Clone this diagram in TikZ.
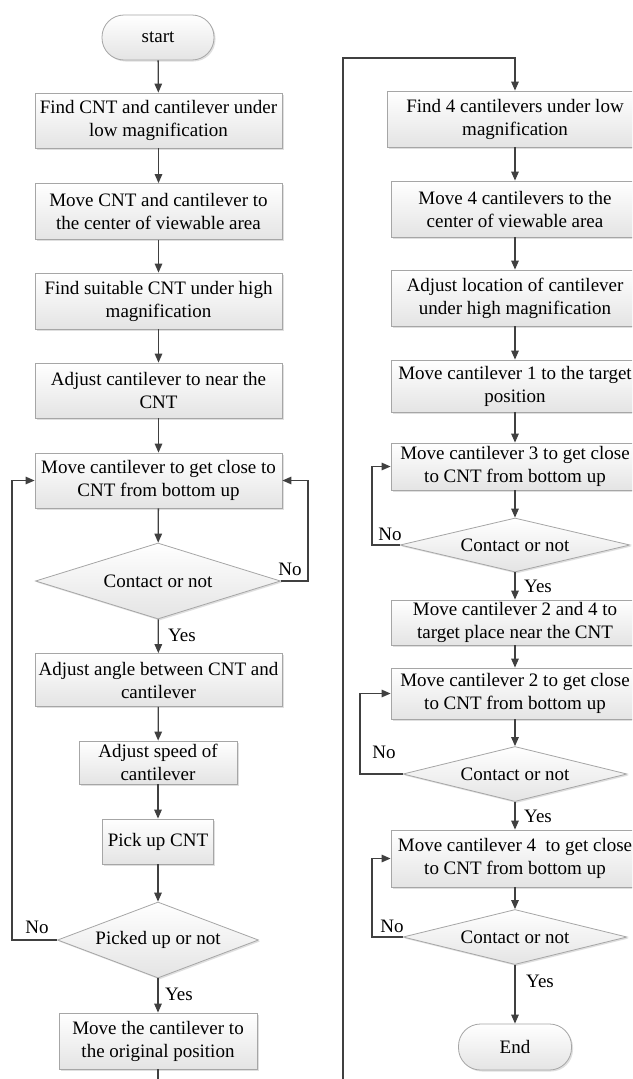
\documentclass[tikz,border=0pt]{standalone}
\usepackage{fontspec}
\setmainfont{Liberation Serif}
\usetikzlibrary{arrows.meta,shapes.geometric,shadows}
\definecolor{linec}{HTML}{404040}
\definecolor{edgec}{HTML}{A6A6A6}
\definecolor{fillb}{HTML}{E4E4E4}
\tikzset{
  flowbox/.style={draw=edgec, line width=0.8pt, top color=white, bottom color=fillb,
    align=center, inner sep=0pt, font=\fontsize{19}{23}\selectfont,
    drop shadow={shadow xshift=1.5pt, shadow yshift=-1.5pt, opacity=0.25}},
  procbox/.style={flowbox, rectangle, minimum width=#1},
  procbox/.default=247pt,
  termbox/.style={flowbox, rectangle, rounded corners=22pt, minimum width=112pt, minimum height=45pt},
  decbox/.style n args={3}{flowbox, diamond, minimum width=#1pt, minimum height=#2pt, inner sep=0pt, aspect=#3},
  conn/.style={draw=linec, line width=1.3pt, -{Triangle[length=9pt,width=7.5pt]}},
  lbl/.style={font=\fontsize{19}{23}\selectfont, inner sep=0pt}
}
\begin{document}
\begin{tikzpicture}[x=1pt,y=1pt]
\useasboundingbox (0,0) rectangle (632,-1079);
\fill[white] (0,0) rectangle (632,-1079);
\clip (0,0) rectangle (632,-1079);

% left column
\node[termbox] (start) at (158,-37.5) {start};
\node[procbox, minimum height=55pt] (b1) at (158.5,-120.5) {Find CNT and cantilever under\\low magnification};
\node[procbox, minimum height=56pt] (b2) at (158.5,-211.5) {Move CNT and cantilever to\\the center of viewable area};
\node[procbox, minimum height=56pt] (b3) at (158.5,-301) {Find suitable CNT under high\\magnification};
\node[procbox, minimum height=55pt] (b4) at (158.5,-390.5) {Adjust cantilever to near the\\CNT};
\node[procbox, minimum height=55pt] (b5) at (158.5,-480.5) {Move cantilever to get close to\\CNT from bottom up};
\node[decbox={245}{76}{3.224}] (d1) at (158,-581) {Contact or not};
\node[procbox, minimum height=53pt] (b6) at (158.5,-680) {Adjust angle between CNT and\\cantilever};
\node[procbox=158pt, minimum height=43pt] (b7) at (158,-762.5) {Adjust speed of\\cantilever};
\node[procbox=111pt, minimum height=45pt] (b8) at (158,-841.5) {Pick up CNT};
\node[decbox={201}{76}{2.645}] (d2) at (158,-940) {Picked up or not};
\node[procbox=198pt, minimum height=56pt] (b9) at (158,-1041) {Move the cantilever to\\the original position};

% right column
\node[procbox=256pt, minimum height=56pt] (r1) at (515,-119) {Find 4 cantilevers under low\\magnification};
\node[procbox=248pt, minimum height=56pt] (r2) at (515,-209) {Move 4 cantilevers to the\\center of viewable area};
\node[procbox=248pt, minimum height=56pt] (r3) at (515,-298) {Adjust location of cantilever\\under high magnification};
\node[procbox=248pt, minimum height=52pt] (r4) at (515,-386) {Move cantilever 1 to the target\\position};
\node[procbox=248pt, minimum height=47pt] (r5) at (515,-466.5) {Move cantilever 3 to get close\\to CNT from bottom up};
\node[decbox={230}{54}{4.259}] (rd1) at (515,-545) {Contact or not};
\node[procbox=248pt, minimum height=45pt] (r6) at (515,-622.5) {Move cantilever 2 and 4 to\\target place near the CNT};
\node[procbox=248pt, minimum height=51pt] (r7) at (515,-693.5) {Move cantilever 2 to get close\\to CNT from bottom up};
\node[decbox={224}{55}{4.073}] (rd2) at (515,-774) {Contact or not};
\node[procbox=248pt, minimum height=57pt] (r8) at (515,-858.5) {Move cantilever 4\ \ to get close\\to CNT from bottom up};
\node[decbox={224}{55}{4.073}] (rd3) at (515,-937) {Contact or not};
\node[termbox, minimum width=113pt, minimum height=46pt] (end) at (515,-1047) {End};

% left connectors
\draw[conn] (start) -- (b1);
\draw[conn] (b1) -- (b2);
\draw[conn] (b2) -- (b3);
\draw[conn] (b3) -- (b4);
\draw[conn] (b4) -- (b5);
\draw[conn] (b5) -- (d1);
\draw[conn] (d1) -- (b6);
\draw[conn] (b6) -- (b7);
\draw[conn] (b7) -- (b8);
\draw[conn] (b8) -- (d2);
\draw[conn] (d2) -- (b9);
\draw[conn] (d1.east) -- ++(27,0) |- (b5.east);
\draw[conn] (d2.west) -- (12,-940) |- (b5.west);

% link between columns (runs below the visible page)
\coordinate (lowturn) at (343,-1100);
\coordinate (topturn) at (343,-58);
\draw[conn] (b9.south) -- (158,-1100) -- (lowturn) -- (topturn) -| (r1.north);

% right connectors
\draw[conn] (r1) -- (r2);
\draw[conn] (r2) -- (r3);
\draw[conn] (r3) -- (r4);
\draw[conn] (r4) -- (r5);
\draw[conn] (r5) -- (rd1);
\draw[conn] (rd1) -- (r6);
\draw[conn] (r6) -- (r7);
\draw[conn] (r7) -- (rd2);
\draw[conn] (rd2) -- (r8);
\draw[conn] (r8) -- (rd3);
\draw[conn] (rd3) -- (end);
\draw[conn] (rd1.west) -- (372,-545) |- (r5.west);
\draw[conn] (rd2.west) -- (360,-774) |- (r7.west);
\draw[conn] (rd3.west) -- (372,-937) |- (r8.west);

% labels
\node[lbl] (n1) at (290,-569) {No};
\node[lbl] (y1) at (182,-635) {Yes};
\node[lbl] (n2) at (37,-927) {No};
\node[lbl] (y2) at (179,-994) {Yes};
\node[lbl] (n3) at (390,-534) {No};
\node[lbl] (y3) at (538,-586) {Yes};
\node[lbl] (n4) at (384,-752) {No};
\node[lbl] (y4) at (538,-816) {Yes};
\node[lbl] (n5) at (392,-926) {No};
\node[lbl] (y5) at (540,-981) {Yes};
\end{tikzpicture}
\end{document}
